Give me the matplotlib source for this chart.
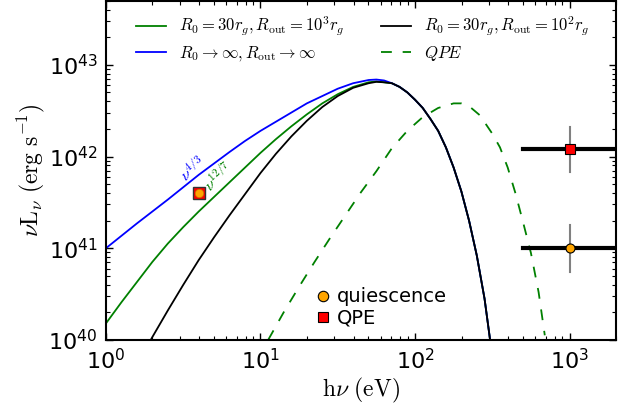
import numpy as np
import matplotlib
matplotlib.use('Agg')
import matplotlib.pyplot as plt
from matplotlib.lines import Line2D

plt.rcParams['mathtext.fontset'] = 'cm'
plt.rcParams['font.family'] = 'DejaVu Sans'

# log10(h nu / eV) and log10(nu L_nu / erg s^-1) for each disc model
logE_out1e3 = [0.0, 0.1, 0.2, 0.3, 0.4, 0.5, 0.6, 0.7, 0.8, 0.9, 1.0, 1.1, 1.2, 1.3,
               1.4, 1.5, 1.6, 1.7, 1.75, 1.8, 1.85]
logL_out1e3 = [40.18, 40.41, 40.63, 40.85, 41.05, 41.23, 41.40, 41.56, 41.72, 41.88,
               42.04, 42.19, 42.33, 42.46, 42.58, 42.68, 42.76, 42.81, 42.82, 42.81, 42.80]

logE_inf = [0.0, 0.2, 0.4, 0.6, 0.8, 0.9, 1.0, 1.1, 1.2, 1.3, 1.4, 1.5, 1.6, 1.7,
            1.75, 1.8, 1.85]
logL_inf = [41.00, 41.27, 41.53, 41.80, 42.05, 42.17, 42.28, 42.38, 42.48, 42.58,
            42.66, 42.74, 42.80, 42.835, 42.84, 42.83, 42.80]

logE_out1e2 = [0.28, 0.3, 0.4, 0.5, 0.6, 0.7, 0.8, 0.9, 1.0, 1.1, 1.2, 1.3, 1.4, 1.5,
               1.6, 1.7, 1.75, 1.8, 1.85]
logL_out1e2 = [39.97, 40.03, 40.32, 40.60, 40.87, 41.12, 41.36, 41.59, 41.82, 42.03,
               42.22, 42.39, 42.54, 42.66, 42.75, 42.80, 42.815, 42.81, 42.80]

# Wien tail shared by the three R0 models
logE_tail = [1.9, 1.95, 2.0, 2.05, 2.1, 2.15, 2.2, 2.25, 2.3, 2.35, 2.4, 2.45, 2.49]
logL_tail = [42.76, 42.70, 42.62, 42.53, 42.41, 42.28, 42.10, 41.88, 41.62, 41.30,
             40.92, 40.45, 39.95]

# QPE spectrum
logE_qpe = [1.05, 1.15, 1.25, 1.35, 1.45, 1.55, 1.65, 1.75, 1.85, 1.95, 2.05, 2.15,
            2.25, 2.3, 2.35, 2.42, 2.5, 2.55, 2.6, 2.65, 2.7, 2.75, 2.8, 2.84]
logL_qpe = [40.0, 40.30, 40.58, 40.85, 41.11, 41.36, 41.61, 41.84, 42.09, 42.28,
            42.43, 42.53, 42.58, 42.58, 42.55, 42.45, 42.25, 42.10, 41.88, 41.60,
            41.28, 40.95, 40.52, 40.05]

# X-ray band (0.5-2 keV) measurements
band_lo, band_hi, band_mid = 500., 2000., 1000.
L_quies, L_quies_lo, L_quies_hi = 1.0e41, 5.5e40, 1.8e41
L_qpe, L_qpe_lo, L_qpe_hi = 1.2e42, 6.8e41, 2.1e42
# optical/UV point
E_opt, L_opt = 4.0, 4.0e41


def unlog(a):
    return 10 ** np.asarray(a)


fig = plt.figure(figsize=(6.27, 4.08), dpi=100)
ax = fig.add_axes([0.169, 0.167, 0.8135, 0.831])
ax.set_xscale('log')
ax.set_yscale('log')

l1, = ax.plot(unlog(logE_out1e3 + logE_tail), unlog(logL_out1e3 + logL_tail), color='g', lw=1.3)
l2, = ax.plot(unlog(logE_inf + logE_tail), unlog(logL_inf + logL_tail), color='b', lw=1.3)
l3, = ax.plot(unlog(logE_out1e2 + logE_tail), unlog(logL_out1e2 + logL_tail), color='k', lw=1.3)
l4, = ax.plot(unlog(logE_qpe), unlog(logL_qpe), color='g', lw=1.3, ls=(0, (6, 6)))

leg1 = ax.legend([l1, l2, l3, l4],
                 [r'$R_0=30r_g, R_{\rm out}=10^3r_g$',
                  r'$R_0\rightarrow\infty, R_{\rm out}\rightarrow\infty$',
                  r'$R_0=30r_g, R_{\rm out}=10^2r_g$',
                  r'$QPE$'],
                 ncol=2, loc='upper left', bbox_to_anchor=(0.045, 0.978), frameon=False,
                 fontsize=12, handlelength=1.8, columnspacing=2.2, labelspacing=0.32,
                 borderaxespad=0.0)
ax.add_artist(leg1)

# X-ray points with band widths
for L, lo, hi in [(L_quies, L_quies_lo, L_quies_hi), (L_qpe, L_qpe_lo, L_qpe_hi)]:
    ax.plot([band_mid, band_mid], [lo, hi], color='grey', lw=1.5, zorder=4)
    ax.plot([band_lo, band_hi], [L, L], color='k', lw=3, zorder=5)
ax.plot(band_mid, L_quies, 'o', color='orange', mec='k', mew=0.8, ms=6.5, zorder=6)
ax.plot(band_mid, L_qpe, 's', color='r', mec='k', mew=0.8, ms=6.5, zorder=6)

ax.plot(E_opt, L_opt, 's', color='r', mec='#333333', mew=1, ms=8.5, zorder=6)
ax.plot(E_opt, L_opt, 'o', color='orange', mec='#cc7700', mew=0.5, ms=6, zorder=7)

ax.text(3.64, 7.3e41, r'$\nu^{4/3}$', color='b', fontsize=11.5, rotation=38,
        ha='center', va='center')
ax.text(5.32, 6.0e41, r'$\nu^{12/7}$', color='g', fontsize=11.5, rotation=43,
        ha='center', va='center')

h_q = Line2D([], [], ls='none', marker='o', color='orange', mec='k', mew=0.8, ms=7.5)
h_p = Line2D([], [], ls='none', marker='s', color='r', mec='k', mew=0.8, ms=7.5)
ax.legend([h_q, h_p], ['quiescence', 'QPE'], loc='lower left',
          bbox_to_anchor=(0.395, 0.014), frameon=False, fontsize=14, numpoints=1,
          handlelength=0.8, handletextpad=0.3, labelspacing=0.1, borderaxespad=0.0)

ax.set_xlim(1, 2000)
ax.set_ylim(1e40, 5e43)
ax.set_xlabel(r'$\mathrm{h}\nu\ (\mathrm{eV})$', fontsize=17, labelpad=2)
ax.set_ylabel(r'$\nu\mathrm{L}_{\nu}\ (\mathrm{erg\ s^{-1}})$', fontsize=17, labelpad=1)

ax.tick_params(which='both', direction='in', top=True, right=True, labelsize=16)
ax.tick_params(which='major', length=5, width=1, pad=6)
ax.tick_params(which='minor', length=3, width=0.8)
for s in ax.spines.values():
    s.set_linewidth(1.5)

fig.savefig('out.png', dpi=100)
